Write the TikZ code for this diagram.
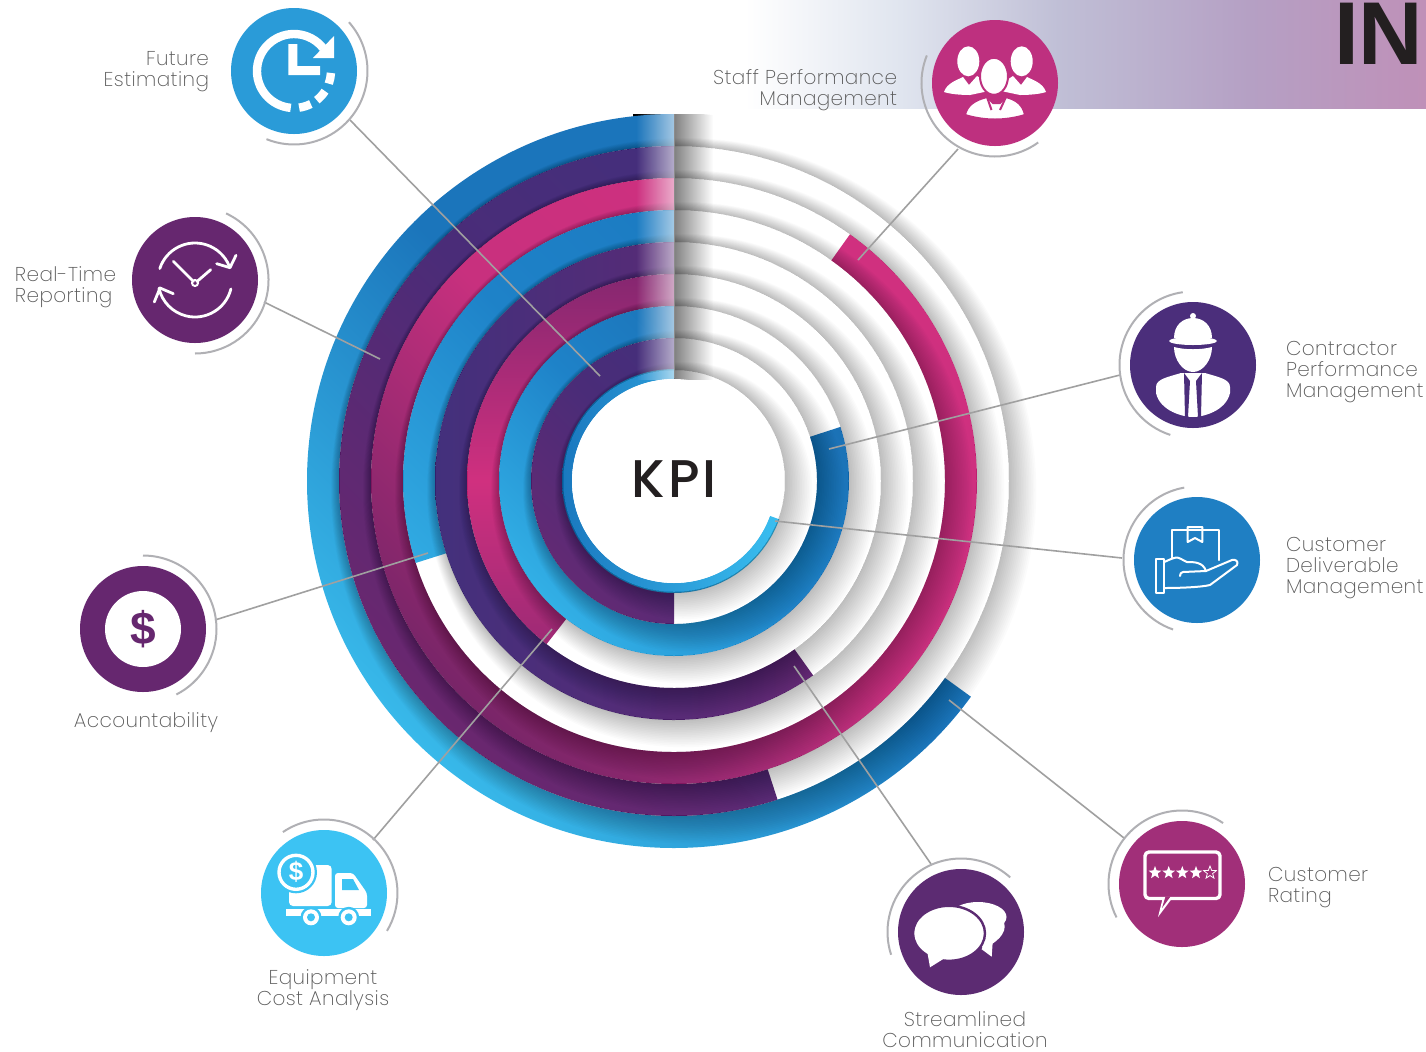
\documentclass[tikz,border=0pt]{standalone}
\usepackage{fontspec}
\setmainfont{Poppins}
\newfontfamily\lblfont[UprightFont={* ExtraLight},LetterSpace=2]{Poppins}
\newfontfamily\kpifont[UprightFont={* Medium},LetterSpace=5]{Poppins}
\newfontfamily\infont{Liberation Sans}
\usetikzlibrary{fadings,calc}
\definecolor{cBlueD}{HTML}{1B75BB}
\definecolor{cIcon1}{HTML}{2A9BD8}
\definecolor{cStaff}{HTML}{BE307F}
\definecolor{cPlum}{HTML}{66276F}
\definecolor{cIndigo}{HTML}{4B2E7B}
\definecolor{cDeliv}{HTML}{1F7FC3}
\definecolor{cSky}{HTML}{3CC3F3}
\definecolor{cStream}{HTML}{5C2B72}
\definecolor{cRate}{HTML}{A12F79}
\definecolor{cHalo}{HTML}{B0B0B4}
\definecolor{cConn}{HTML}{A0A0A0}
\definecolor{cText}{HTML}{585858}
\definecolor{cInk}{HTML}{231F20}
\definecolor{bnA}{HTML}{E0E5EF}
\definecolor{bnB}{HTML}{C0BFD6}
\definecolor{bnC}{HTML}{B5A0C4}
\definecolor{bnD}{HTML}{BF90B8}
\definecolor{r1b}{HTML}{38B9EA}
\definecolor{r2t}{HTML}{41307D}
\definecolor{r2m}{HTML}{4A2C78}
\definecolor{r2b}{HTML}{6A276F}
\definecolor{r3t}{HTML}{D0307F}
\definecolor{r3m}{HTML}{C8307E}
\definecolor{r3b}{HTML}{782568}
\definecolor{r4t}{HTML}{1B78BF}
\definecolor{r4m}{HTML}{1E82C8}
\definecolor{r4b}{HTML}{33B0E6}
\definecolor{r5l}{HTML}{43307C}
\definecolor{r5r}{HTML}{6B2670}
\definecolor{r6t}{HTML}{852770}
\definecolor{r6m}{HTML}{D0307F}
\definecolor{r6b}{HTML}{8F2872}
\definecolor{r7t}{HTML}{1B6FB3}
\definecolor{r7b}{HTML}{32B0E6}
\definecolor{r8b}{HTML}{622A74}
\definecolor{r9l}{HTML}{1A78BF}
\definecolor{r9r}{HTML}{3BC1F2}
\tikzfading[name=fadeWhiteEast,left color=transparent!100,right color=transparent!40]
\tikzfading[name=fadeDarkWest,left color=transparent!50,right color=transparent!100]
\pgfdeclarehorizontalshading{bannershade}{100bp}{
 color(0bp)=(white);
 color(25bp)=(white);
 color(36.4bp)=(bnA);
 color(48bp)=(bnB);
 color(62bp)=(bnC);
 color(75bp)=(bnD);
 color(100bp)=(bnD)}
\tikzset{
 discnode/.style={circle,minimum size=63pt,inner sep=0pt,outer sep=0pt},
 halo/.style={draw=cHalo,line width=1pt},
 conn/.style={draw=cConn,line width=.8pt},
 lbl/.style={text=cText,inner sep=0pt,outer sep=0pt,font=\lblfont\fontsize{10}{10.5}\selectfont},
 iconline/.style={draw=white,line width=1pt,line cap=round,line join=round},
}
% straight gradient
\newcommand{\bandseg}[4]{%
 \begin{scope}
 \clip ([shift={(-90:#1)}]c) arc[start angle=-90,end angle=-#3,radius=#1]
   -- ([shift={(-#3:#2)}]c) arc[start angle=-#3,end angle=-90,radius=#2] -- cycle;
 \shade[#4] (674-#1,481-#1) rectangle (674+#1,481+#1);
 \end{scope}}
% gradient running from upper right to lower left
\newcommand{\bandslant}[4]{%
 \begin{scope}
 \clip ([shift={(-90:#1)}]c) arc[start angle=-90,end angle=-#3,radius=#1]
   -- ([shift={(-#3:#2)}]c) arc[start angle=-#3,end angle=-90,radius=#2] -- cycle;
 \begin{scope}[transform canvas={rotate around={-45:(c)}}]
 \shade[#4] (674-#1,481-#1) rectangle (674+#1,481+#1);
 \end{scope}
 \end{scope}}
\newcommand{\halofor}[3]{\draw[halo] ([shift={(#2:73.5)}]#1.center) arc[start angle=#2,end angle=#3,radius=73.5];}
\newcommand{\fivestar}[4]{%
 \path[#4] (#1,#2) +(-90:#3) -- +(-54:#3*.42) -- +(-18:#3) -- +(18:#3*.42) -- +(54:#3) -- +(90:#3*.42)
  -- +(126:#3) -- +(162:#3*.42) -- +(198:#3) -- +(234:#3*.42) -- cycle;}
\begin{document}
\begin{tikzpicture}[x=.5pt,y=-.5pt]
\clip (0,0) rectangle (1426,1051);
\fill[white] (0,0) rectangle (1426,1051);
\coordinate (c) at (674,481);
% banner
\shade[shading=bannershade] (745,0) rectangle (1426,108);
\node[font=\infont\bfseries\fontsize{44.6}{44.6}\selectfont,text=cInk,inner sep=0pt,outer sep=0pt,anchor=base west] (intext) at (1334,64) {IN};
% black sliver
\fill[black] (633,114) rectangle (672,117);
% bands (middle colour last: bottom color resets it)
\bandslant{367}{335}{324}{top color=cBlueD,bottom color=r1b,middle color=cBlueD}
\bandslant{335}{303}{288}{top color=r2t,bottom color=r2b,middle color=r2m}
\bandslant{303}{271}{414.5}{top color=r3t,bottom color=r3b,middle color=r3m}
\bandslant{271}{239}{197.6}{top color=r4t,bottom color=r4b,middle color=r4m}
\bandseg{239}{207}{305.6}{left color=r5l,right color=r5r}
\bandseg{207}{175}{232}{top color=r6t,bottom color=r6b,middle color=r6m}
\bandslant{175}{143}{378}{top color=r7t,bottom color=r7b,middle color=r4m}
\bandslant{143}{111}{270}{top color=r2t,bottom color=r8b,middle color=r2m}
\bandseg{112}{102}{340}{left color=r9l,right color=r9r}
% cast shadows
\foreach \R in {335,303,271,239,207,175,143,111}{
 \foreach \k in {1,...,16}{
  \fill[black,opacity=.014,even odd rule] (c) circle[radius=\R]
    ([shift={(\k*.6,\k*.6)}]c) circle[radius={\R+\k*1.1}];
 }}
% fold at twelve o'clock
\begin{scope}
 \clip (c) circle[radius=368];
 \fill[white,path fading=fadeWhiteEast] (636,114) rectangle (674,380);
 \fill[black,path fading=fadeDarkWest] (674,114) rectangle (713,380);
\end{scope}
\draw[black!45,line width=.4pt] (674,114) -- (674,378);
\fill[white] (c) circle[radius=102];
\node[font=\kpifont\fontsize{26.5}{26.5}\selectfont,text=cInk,inner sep=0pt] (kpi) at (674,479) {KPI};

% connector ends
\coordinate (futA) at (350,120); \coordinate (futB) at (600,376);
\coordinate (stfA) at (958,149); \coordinate (stfB) at (858,260);
\coordinate (conA) at (1120,375); \coordinate (conB) at (829,449);
\coordinate (delA) at (1122,558); \coordinate (delB) at (775,521);
\coordinate (ratA) at (1124,838); \coordinate (ratB) at (949,700);
\coordinate (strA) at (931,864); \coordinate (strB) at (794,666);
\coordinate (eqpA) at (373,840); \coordinate (eqpB) at (552,629);
\coordinate (accA) at (215,620); \coordinate (accB) at (428,553);
\coordinate (rtmA) at (264,302); \coordinate (rtmB) at (380,359);
\draw[conn] (futA) -- (futB);
\draw[conn] (stfA) -- (stfB);
\draw[conn] (conA) -- (conB);
\draw[conn] (delA) -- (delB);
\draw[conn] (ratA) -- (ratB);
\draw[conn] (strA) -- (strB);
\draw[conn] (eqpA) -- (eqpB);
\draw[conn] (accA) -- (accB);
\draw[conn] (rtmA) -- (rtmB);

% discs
\node[discnode,fill=cIcon1] (fut) at (294,71) {};
\node[discnode,fill=cStaff] (stf) at (995,83) {};
\node[discnode,fill=cPlum] (rtm) at (195,280) {};
\node[discnode,fill=cIndigo] (con) at (1193,365) {};
\node[discnode,fill=cDeliv] (del) at (1197,560) {};
\node[discnode,fill=cPlum] (acc) at (143,629) {};
\node[discnode,fill=cSky] (eqp) at (324,893) {};
\node[discnode,fill=cStream] (str) at (961,932) {};
\node[discnode,fill=cRate] (rat) at (1182,884) {};
% halos
\halofor{fut}{-41.6}{112}
\halofor{stf}{-158}{-306}
\halofor{rtm}{-65}{90}
\halofor{con}{-98}{-252}
\halofor{del}{-100}{-251}
\halofor{acc}{-90}{63}
\halofor{eqp}{-124}{31}
\halofor{str}{-48}{-198}
\halofor{rat}{-56}{-207}

% icon: future
\begin{scope}[shift={(294,71)}]
 \draw[white,line width=4.2pt] (95:37) arc[start angle=95,end angle=322,radius=37];
 \fill[white] (40,-35) -- (40,-13) -- (19,-13) -- cycle;
 \fill[white] (-5.7,-27) -- (3.3,-27) -- (3.3,-5) -- (26,-5) -- (26,4) -- (-5.7,4) -- cycle;
 \draw[white,line width=4.2pt] (3:37) arc[start angle=3,end angle=20,radius=37];
 \draw[white,line width=4.2pt] (33:37) arc[start angle=33,end angle=52,radius=37];
 \draw[white,line width=4.2pt] (63:37) arc[start angle=63,end angle=82,radius=37];
\end{scope}
% icon: real time
\begin{scope}[shift={(195,280)}]
 \draw[iconline,line width=1.4pt] (198:37) arc[start angle=198,end angle=337,radius=37];
 \draw[iconline,line width=1.4pt] (21.7,-16.3) -- (35,-12.3) -- (41,-24.7);
 \draw[iconline,line width=1.4pt] (14:37) arc[start angle=14,end angle=167,radius=37];
 \draw[iconline,line width=1.4pt] (-21.7,13.7) -- (-35,8) -- (-40.7,22);
 \draw[iconline,line width=1.4pt] (-21.7,-18.7) -- (-1.5,1.5);
 \draw[iconline,line width=1.4pt] (15.7,-10.3) -- (2,1.5);
 \draw[white,line width=1pt] (0,3) circle[radius=3];
\end{scope}
% icon: staff
\begin{scope}[shift={(995,83)}]
 \foreach \sx in {-1,1}{
 \begin{scope}[xscale=\sx]
  \fill[white] (-51,9) .. controls (-48,0) and (-38,-3) .. (-32,-6) -- (-26,2) -- (-18,-7) .. controls (-12,-4) and (-10,0) .. (-6,8) -- (-25,12) .. controls (-35,12) and (-45,11) .. (-51,9) -- cycle;
  \fill[white] (-26.7,-21.7) ellipse[x radius=11,y radius=15];
 \end{scope}}
 \fill[white,draw=cStaff,line width=1pt] (-1,-6.7) ellipse[x radius=14,y radius=18.5];
 \fill[white,draw=cStaff,line width=1pt] (-30,32) .. controls (-28,22) and (-20,17) .. (-8,14) -- (-2,20) -- (5,20) -- (11,14) .. controls (22,17) and (28,22) .. (30,32) .. controls (10,38) and (-10,38) .. (-30,32) -- cycle;
 \draw[cStaff,line width=1pt] (-8,14) -- (-3.5,27);
 \draw[cStaff,line width=1pt] (11,14) -- (5,27);
\end{scope}
% icon: contractor
\begin{scope}[shift={(1193,365)}]
 \fill[white] (-19,-27) .. controls (-19,-40) and (-10,-47) .. (0,-47) .. controls (10,-47) and (19,-40) .. (19,-27) -- cycle;
 \fill[white] (0,-49) circle[radius=3];
 \fill[white] (0,-24) ellipse[x radius=24,y radius=4];
 \fill[white] (-19,-18) .. controls (-8,-15) and (8,-15) .. (19,-18) .. controls (19,-5) and (10,7) .. (0,7) .. controls (-10,7) and (-19,-5) .. (-19,-18) -- cycle;
 \fill[white] (-37,22) .. controls (-37,14) and (-25,12) .. (-12,8) -- (12,8) .. controls (25,12) and (37,14) .. (37,22) -- (37,28) .. controls (33,46) and (10,52) .. (0,52) .. controls (-10,52) and (-33,46) .. (-37,28) -- cycle;
 \fill[cIndigo] (-9,8) -- (-3,16) -- (-5,52) -- (-8,52) -- cycle;
 \fill[cIndigo] (9,8) -- (3,16) -- (5,52) -- (8,52) -- cycle;
\end{scope}
% icon: deliverable
\begin{scope}[shift={(1197,560)}]
 \draw[iconline] (-25.3,-2) -- (-25.3,-30) -- (22.3,-30) -- (22.3,0);
 \draw[iconline] (-9.3,-33) -- (-9.3,-18) -- (-2,-22) -- (5.3,-18) -- (5.3,-33) -- cycle;
 \draw[iconline] (-41,-.7) rectangle (-32.7,32.7);
 \draw[iconline] (-32.7,2) .. controls (-26,-1) and (-22,-3) .. (-19,-2.3) .. controls (-15,-1) and (-13,1) .. (-10,2) .. controls (-3,2) and (6,2) .. (9,11) -- (-14,12) .. controls (-16,12) and (-17,14) .. (-17,16);
 \draw[iconline] (-32.7,28) .. controls (-15,28) and (5,27) .. (13,25) -- (40,5) .. controls (42,1) and (38,-1) .. (35,0) -- (9,11);
\end{scope}
% icon: rating
\begin{scope}[shift={(1182,884)}]
 \draw[white,line width=1.7pt,line join=round,rounded corners=2pt] (-37,-32) rectangle (38,14.5);
 \fill[white] (-19,13) -- (-24,33) -- (-9,13) -- cycle;
 \fill[cRate] (-16.5,12.5) -- (-20,24) -- (-11.5,12.5) -- cycle;
 \fivestar{-27}{-11.3}{6.7}{fill=white}
 \fivestar{-13.3}{-11.3}{6.7}{fill=white}
 \fivestar{.3}{-11.3}{6.7}{fill=white}
 \fivestar{14}{-11.3}{6.7}{fill=white}
 \fivestar{28}{-11.3}{6.7}{fill=cRate,draw=white,line width=.4pt}
\end{scope}
% icon: stream
\begin{scope}[shift={(961,932)}]
 \fill[white] (17,-15) ellipse[x radius=28.5,y radius=15];
 \fill[white] (20.7,17.3) -- (30.7,24.7) -- (31.7,10) -- (25,5) -- cycle;
 \fill[white] (3,-5) -- (37,-17) .. controls (50,-7) and (42,5) .. (31,12) -- (22,16) -- cycle;
 \fill[white,draw=cStream,line width=1.2pt] (-12,1.3) ellipse[x radius=36,y radius=27.5];
 \fill[white] (-33.5,21) -- (-31,35.3) -- (-17.7,27) -- cycle;
\end{scope}
% icon: equipment
\begin{scope}[shift={(324,893)}]
 \fill[white,rounded corners=2pt] (-35,-28) rectangle (7.7,13);
 \fill[white,rounded corners=1.5pt] (11,-20) -- (29,-20) -- (43,0) -- (43,15) -- (11,15) -- cycle;
 \fill[cSky] (18,-14) -- (29,-14) -- (35,-3) -- (18,-3) -- cycle;
 \fill[white] (-38,16) rectangle (47,22.5);
 \foreach \wx in {-13,24.7}{
  \fill[cSky] (\wx,24.3) circle[radius=10.5];
  \fill[white] (\wx,24.3) circle[radius=8];
  \fill[cSky] (\wx,24.3) circle[radius=4];
 }
 \fill[cSky] (-28,-20.7) circle[radius=21];
 \draw[white,line width=1.7pt] (-28,-20.7) circle[radius=17];
 \node[text=white,font=\infont\bfseries\fontsize{13}{13}\selectfont,inner sep=0pt] (coin) at (-28,-20.7) {\$};
\end{scope}
% icon: accountability
\fill[white] (acc.center) circle[radius=38];
\node[text=cPlum,font=\infont\bfseries\fontsize{23}{23}\selectfont,inner sep=0pt] (dollar) at (143,629) {\$};

% labels
\node[lbl,align=right,anchor=east] (lFut) at (209,72) {Future\\Estimating};
\node[lbl,align=right,anchor=east] (lStf) at (897,90) {Staff Performance\\Management};
\node[lbl,align=left,anchor=west] (lRtm) at (15,287) {Real-Time\\Reporting};
\node[lbl,align=left,anchor=west] (lCon) at (1286,372) {Contractor\\Performance\\Management};
\node[lbl,align=left,anchor=west] (lDel) at (1286,568) {Customer\\Deliverable\\Management};
\node[lbl,align=left,anchor=west] (lRat) at (1268,888) {Customer\\Rating};
\node[lbl,align=center] (lAcc) at (146,723) {Accountability};
\node[lbl,align=center] (lEqp) at (323,990) {Equipment\\Cost Analysis};
\node[lbl,align=center] (lStr) at (965,1030) {Streamlined\\Communication};
\end{tikzpicture}
\end{document}
